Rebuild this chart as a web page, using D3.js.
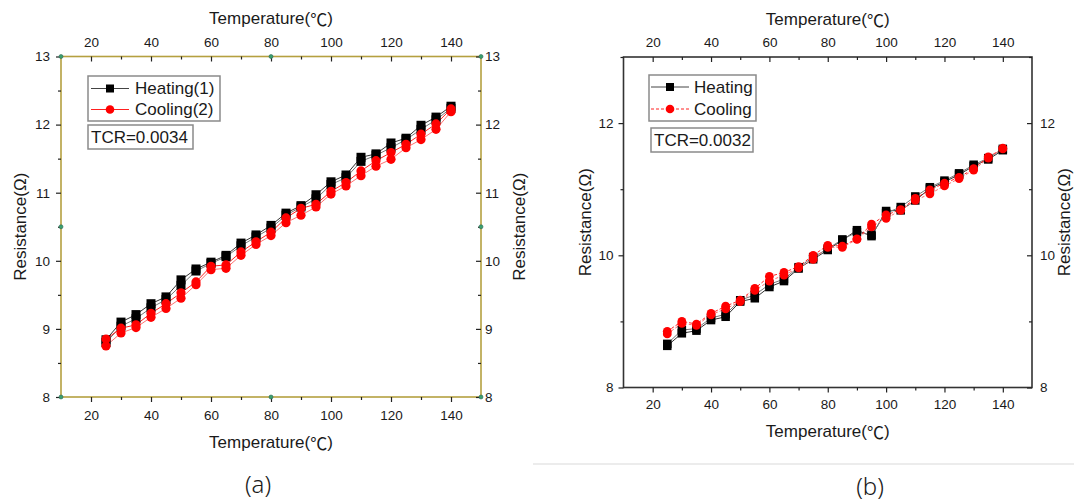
<!DOCTYPE html>
<html>
<head>
<meta charset="utf-8">
<script src="https://cdn.jsdelivr.net/npm/d3@7"></script>
<style>
  html, body { margin: 0; padding: 0; background: #fff; }
  svg { display: block; }
  text { font-family: "Liberation Sans", Arial, "DejaVu Sans", sans-serif; fill: #1a1a1a; }
</style>
</head>
<body>
<svg id="chart" width="1074" height="500"></svg>
<script>
// ---------------- DATA ----------------
const temps = [25, 30, 35, 40, 45, 50, 55, 60, 65, 70, 75, 80, 85, 90, 95, 100, 105, 110, 115, 120, 125, 130, 135, 140];

// Panel (a)
const aHeating1 = [8.84, 9.10, 9.21, 9.37, 9.47, 9.72, 9.88, 9.98, 10.08, 10.26, 10.38, 10.52, 10.70, 10.81, 10.97, 11.16, 11.26, 11.52, 11.57, 11.73, 11.80, 11.99, 12.11, 12.27];
const aHeating2 = [8.80, 9.04, 9.15, 9.31, 9.43, 9.64, 9.85, 9.96, 10.06, 10.22, 10.35, 10.48, 10.67, 10.79, 10.91, 11.12, 11.22, 11.46, 11.55, 11.66, 11.78, 11.93, 12.07, 12.24];
const aCooling1 = [8.85, 9.01, 9.06, 9.23, 9.37, 9.53, 9.69, 9.92, 9.94, 10.13, 10.28, 10.42, 10.63, 10.77, 10.83, 11.02, 11.15, 11.32, 11.47, 11.59, 11.71, 11.86, 12.01, 12.23];
const aCooling2 = [8.75, 8.94, 9.02, 9.17, 9.30, 9.45, 9.65, 9.87, 9.89, 10.08, 10.24, 10.37, 10.56, 10.67, 10.79, 10.98, 11.10, 11.25, 11.39, 11.49, 11.66, 11.78, 11.93, 12.19];

// Panel (b)
const bHeating1 = [8.63, 8.82, 8.86, 9.02, 9.07, 9.30, 9.35, 9.52, 9.61, 9.80, 9.94, 10.08, 10.23, 10.38, 10.29, 10.67, 10.68, 10.83, 11.01, 11.11, 11.22, 11.35, 11.45, 11.59];
const bHeating2 = [8.66, 8.87, 8.89, 9.05, 9.11, 9.32, 9.40, 9.56, 9.64, 9.82, 9.97, 10.10, 10.24, 10.35, 10.31, 10.64, 10.73, 10.89, 11.03, 11.13, 11.24, 11.37, 11.47, 11.61];
const bCooling1 = [8.85, 9.00, 8.96, 9.12, 9.23, 9.32, 9.50, 9.68, 9.74, 9.83, 10.00, 10.15, 10.14, 10.25, 10.47, 10.61, 10.69, 10.86, 10.99, 11.09, 11.18, 11.31, 11.49, 11.61];
const bCooling2 = [8.81, 8.97, 8.94, 9.10, 9.19, 9.30, 9.47, 9.61, 9.70, 9.81, 9.94, 10.12, 10.12, 10.24, 10.43, 10.56, 10.68, 10.83, 10.93, 11.05, 11.16, 11.29, 11.47, 11.62];

// Ticks & labels
const xMajor = [20, 40, 60, 80, 100, 120, 140];
const xMinor = [30, 50, 70, 90, 110, 130];
const aYMajor = [8, 9, 10, 11, 12, 13];
const aYMinor = [8.5, 9.5, 10.5, 11.5, 12.5];
const bYMajor = [8, 10, 12];
const bYMinor = [9, 11, 13];
const xTitle = "Temperature(℃)";
const yTitle = "Resistance(Ω)";
const aLegend = ["Heating(1)", "Cooling(2)"];
const bLegend = ["Heating", "Cooling"];
const aTCR = "TCR=0.0034";
const bTCR = "TCR=0.0032";
const panelLabels = ["(a)", "(b)"];

// ---------------- DRAW ----------------
const svg = d3.select("#chart");

function writeTitle(sel, str) {
  // the degree-Celsius sign is drawn with a CJK face, as in the reference
  const parts = str.split(/(℃)/).filter(s => s.length);
  sel.selectAll("tspan").data(parts).enter().append("tspan")
    .style("font-family", d => d === "℃" ? "'Noto Sans CJK SC', 'Noto Sans CJK JP', sans-serif" : null)
    .text(d => d);
}

function drawPanel(cfg) {
  const g = svg.append("g");
  const x = d3.scaleLinear().domain([10, 150]).range([cfg.x0, cfg.x1]);
  const y = d3.scaleLinear().domain([8, 13]).range([cfg.y1, cfg.y0]);
  const tickFont = "13.5px";

  function axis(gen, tx, ty, major, minor, majorSize, minorSize, pad) {
    const ga = g.append("g").attr("transform", `translate(${tx},${ty})`)
      .call(gen.tickValues(major).tickSize(majorSize).tickPadding(pad).tickFormat(d3.format("d")));
    ga.select(".domain").remove();
    ga.selectAll("line").attr("stroke", "#222").attr("stroke-width", 1.2);
    ga.selectAll("text").attr("font-size", tickFont).attr("fill", "#1a1a1a").attr("font-family", "Liberation Sans, Arial, sans-serif");
    const gm = g.append("g").attr("transform", `translate(${tx},${ty})`)
      .call(gen.tickValues(minor).tickSize(minorSize).tickFormat(() => ""));
    gm.select(".domain").remove();
    gm.selectAll("line").attr("stroke", "#222").attr("stroke-width", 1.2);
  }

  // Frame
  g.append("rect").attr("x", cfg.x0).attr("y", cfg.y0)
    .attr("width", cfg.x1 - cfg.x0).attr("height", cfg.y1 - cfg.y0)
    .attr("fill", "none").attr("stroke", cfg.frameColor).attr("stroke-width", 1.6);

  // Axes: bottom outward, top inward, left outward, right inward
  axis(d3.axisBottom(x), 0, cfg.y1, xMajor, xMinor, 5, 3, cfg.padB);
  axis(d3.axisTop(x), 0, cfg.y0, xMajor, xMinor, -5, -3, cfg.padT);
  axis(d3.axisLeft(y), cfg.x0, 0, cfg.yMajor, cfg.yMinor, 5, 3, cfg.padL);
  axis(d3.axisRight(y), cfg.x1, 0, cfg.yMajor, cfg.yMinor, -5, -3, cfg.padR);

  // Green corner dots (panel a)
  if (cfg.dots) {
    const dots = [[10, 13], [80, 13], [150, 13], [10, 8], [80, 8], [150, 8], [10, 10.5], [150, 10.5]];
    g.selectAll(".gdot").data(dots).enter().append("circle")
      .attr("cx", d => x(d[0])).attr("cy", d => y(d[1])).attr("r", 2)
      .attr("fill", "#3aa070").attr("stroke", "#2a6a55").attr("stroke-width", 0.6);
  }

  // Titles
  writeTitle(g.append("text").attr("x", (cfg.x0 + cfg.x1) / 2).attr("y", cfg.topTitleY)
    .attr("text-anchor", "middle").attr("dominant-baseline", "central").attr("font-size", "17px"), xTitle);
  writeTitle(g.append("text").attr("x", (cfg.x0 + cfg.x1) / 2).attr("y", cfg.botTitleY)
    .attr("text-anchor", "middle").attr("dominant-baseline", "central").attr("font-size", "17px"), xTitle);
  const cy = (cfg.y0 + cfg.y1) / 2;
  g.append("text").attr("transform", `translate(${cfg.leftTitleX},${cy}) rotate(-90)`)
    .attr("text-anchor", "middle").attr("dominant-baseline", "central").attr("font-size", "17px").text(yTitle);
  g.append("text").attr("transform", `translate(${cfg.rightTitleX},${cy}) rotate(-90)`)
    .attr("text-anchor", "middle").attr("dominant-baseline", "central").attr("font-size", "17px").text(yTitle);

  // Series
  const line = d3.line().x(d => x(d[0])).y(d => y(d[1]));
  cfg.heating.forEach((vals, i) => {
    const pts = temps.map((t, k) => [t, vals[k]]);
    g.append("path").attr("d", line(pts)).attr("fill", "none")
      .attr("stroke", i === 0 ? "#333" : "#777").attr("stroke-width", 1);
  });
  cfg.cooling.forEach((vals, i) => {
    const pts = temps.map((t, k) => [t, vals[k]]);
    g.append("path").attr("d", line(pts)).attr("fill", "none")
      .attr("stroke", i === 0 ? "#ff2020" : "#ff7070").attr("stroke-width", 1)
      .attr("stroke-dasharray", cfg.coolDash);
  });
  const sq = cfg.sq;
  cfg.heating.forEach(vals => {
    g.selectAll(null).data(temps.map((t, k) => [t, vals[k]])).enter().append("rect")
      .attr("x", d => x(d[0]) - sq / 2).attr("y", d => y(d[1]) - sq / 2)
      .attr("width", sq).attr("height", sq).attr("fill", "#000");
  });
  cfg.cooling.forEach(vals => {
    g.selectAll(null).data(temps.map((t, k) => [t, vals[k]])).enter().append("circle")
      .attr("cx", d => x(d[0])).attr("cy", d => y(d[1])).attr("r", cfg.cr).attr("fill", "#ff0000");
  });

  // Legend
  const L = cfg.legend;
  g.append("rect").attr("x", L.x).attr("y", L.y).attr("width", L.w).attr("height", L.h)
    .attr("fill", "#fff").attr("stroke", "#8a8a8a").attr("stroke-width", 1.5);
  [0, 1].forEach(i => {
    const ry = L.rows[i];
    g.append("line").attr("x1", L.lx0).attr("x2", L.lx1).attr("y1", ry).attr("y2", ry)
      .attr("stroke", i === 0 ? "#444" : "#ff2020").attr("stroke-width", 1)
      .attr("stroke-dasharray", i === 1 ? cfg.coolDash : null);
    if (i === 0) {
      g.append("rect").attr("x", L.mx - 4).attr("y", ry - 4).attr("width", 8).attr("height", 8).attr("fill", "#000");
    } else {
      g.append("circle").attr("cx", L.mx).attr("cy", ry).attr("r", 4.3).attr("fill", "#ff0000");
    }
    g.append("text").attr("x", L.tx).attr("y", ry).attr("dominant-baseline", "central")
      .attr("font-size", "17px").text(cfg.legendText[i]);
  });
  const T = cfg.tcr;
  g.append("rect").attr("x", T.x).attr("y", T.y).attr("width", T.w).attr("height", T.h)
    .attr("fill", "#fff").attr("stroke", "#8a8a8a").attr("stroke-width", 1.5);
  g.append("text").attr("x", T.x + 3).attr("y", T.y + T.h / 2).attr("dominant-baseline", "central")
    .attr("font-size", "17px").text(cfg.tcrText);
}

drawPanel({
  x0: 61, x1: 481, y0: 56.5, y1: 397,
  frameColor: "#b5a040", dots: true,
  yMajor: aYMajor, yMinor: aYMinor,
  padB: 8, padT: 10, padL: 6, padR: 4,
  topTitleY: 17.5, botTitleY: 441.5, leftTitleX: 20.5, rightTitleX: 519,
  heating: [aHeating1, aHeating2], cooling: [aCooling1, aCooling2],
  coolDash: null, sq: 9, cr: 4.6,
  legend: { x: 88, y: 76, w: 132, h: 45, rows: [88.5, 109.5], lx0: 91, lx1: 129, mx: 110, tx: 135 },
  legendText: aLegend,
  tcr: { x: 88, y: 125, w: 105, h: 24 }, tcrText: aTCR
});

drawPanel({
  x0: 623.5, x1: 1032, y0: 57, y1: 387.5,
  frameColor: "#333", dots: false,
  yMajor: bYMajor, yMinor: bYMinor,
  padB: 7, padT: 10.5, padL: 5, padR: 8,
  topTitleY: 19, botTitleY: 430.5, leftTitleX: 585.5, rightTitleX: 1064,
  heating: [bHeating1, bHeating2], cooling: [bCooling1, bCooling2],
  coolDash: "3,2", sq: 8.5, cr: 4.4,
  legend: { x: 649, y: 75, w: 107, h: 46, rows: [87, 109], lx0: 651, lx1: 689, mx: 670, tx: 694 },
  legendText: bLegend,
  tcr: { x: 651, y: 128, w: 102, h: 24 }, tcrText: bTCR
});

// Separator line under panel (b)
svg.append("line").attr("x1", 533).attr("x2", 1074).attr("y1", 464).attr("y2", 464)
  .attr("stroke", "#e6e6e6").attr("stroke-width", 1.5);

// Panel labels
svg.selectAll(".plabel").data(panelLabels).enter().append("text")
  .attr("x", (d, i) => i === 0 ? 258 : 870).attr("y", (d, i) => i === 0 ? 483 : 485)
  .attr("text-anchor", "middle").attr("dominant-baseline", "central")
  .attr("font-size", "24px").attr("fill", "#333").style("font-family", "'Noto Sans', 'Open Sans', sans-serif")
  .style("font-weight", 300).text(d => d);
</script>
</body>
</html>
